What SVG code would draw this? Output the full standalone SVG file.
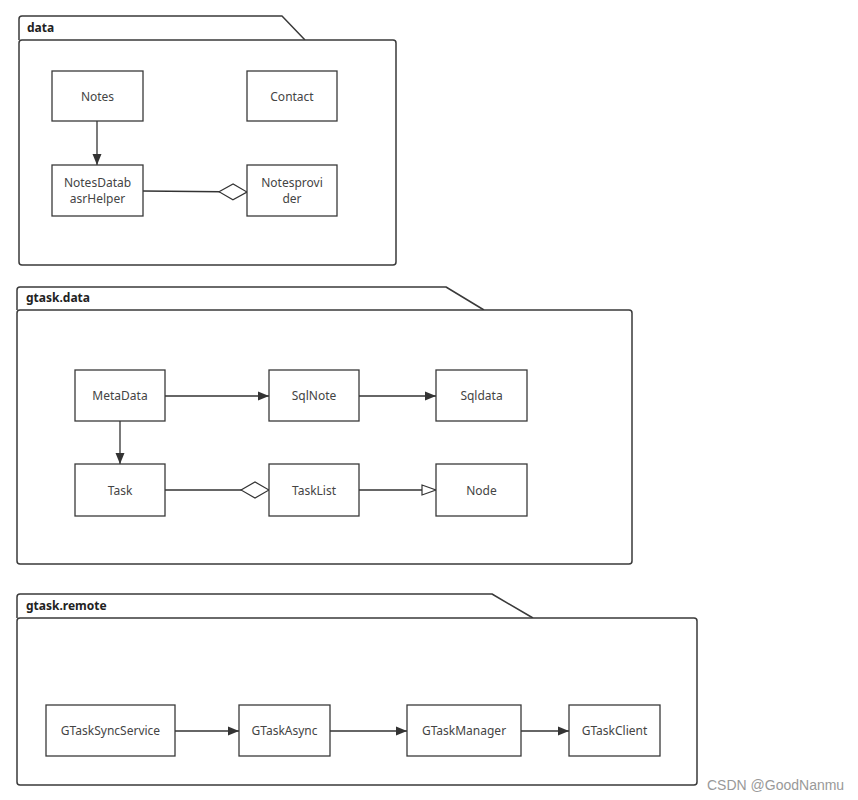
<svg xmlns="http://www.w3.org/2000/svg" width="858" height="800" viewBox="0 0 858 800">
<style>
.pk{fill:#fff;stroke:#3a3a3a;stroke-width:1.5;stroke-linejoin:round}
.nd{fill:#fff;stroke:#3a3a3a;stroke-width:1.3}
.t{font-family:"Noto Sans","Liberation Sans",sans-serif;font-size:12px;fill:#444;text-anchor:middle}
.pt{font-family:"Noto Sans","Liberation Sans",sans-serif;font-size:12px;font-weight:bold;fill:#222}
.c{fill:none;stroke:#333;stroke-width:1.3}
.wm{font-family:"Liberation Sans",Arial,sans-serif;font-size:14px;fill:#999}
</style>
<defs>
<marker id="arr" markerWidth="12" markerHeight="10" refX="11" refY="5" orient="auto" markerUnits="userSpaceOnUse">
<path d="M0,0.5 L11,5 L0,9.5 Z" fill="#333"/>
</marker>
<marker id="tri" markerWidth="16" markerHeight="12" refX="15" refY="6" orient="auto" markerUnits="userSpaceOnUse">
<path d="M1,1 L15,6 L1,11 Z" fill="#fff" stroke="#333" stroke-width="1.2"/>
</marker>
<marker id="dia" markerWidth="30" markerHeight="20" refX="29" refY="9" orient="auto" markerUnits="userSpaceOnUse">
<path d="M1,9 L15,1 L29,9 L15,17 Z" fill="#fff" stroke="#333" stroke-width="1.2"/>
</marker>
</defs>

<g id="pkg-data">
<path class="pk" d="M19,40 L19,19 Q19,16 22,16 L282,16 L305,40"/>
<rect class="pk" x="19" y="40" width="377" height="225" rx="3"/>
<text class="pt" x="27" y="32">data</text>
</g>
<g id="pkg-gtask-data">
<path class="pk" d="M17,310 L17,290 Q17,287 20,287 L446,287 L484,310"/>
<rect class="pk" x="17" y="310" width="615" height="254" rx="3"/>
<text class="pt" x="26" y="302">gtask.data</text>
</g>
<g id="pkg-gtask-remote">
<path class="pk" d="M17,618 L17,597 Q17,594 20,594 L492,594 L533,618"/>
<rect class="pk" x="17" y="618" width="680" height="167" rx="3"/>
<text class="pt" x="26" y="610">gtask.remote</text>
</g>

<g id="connectors">
<line class="c" x1="97" y1="121" x2="97" y2="165" marker-end="url(#arr)"/>
<line class="c" x1="143" y1="191" x2="247" y2="192" marker-end="url(#dia)"/>
<line class="c" x1="165" y1="396" x2="269" y2="396" marker-end="url(#arr)"/>
<line class="c" x1="359" y1="396" x2="436" y2="396" marker-end="url(#arr)"/>
<line class="c" x1="120" y1="421" x2="120" y2="464" marker-end="url(#arr)"/>
<line class="c" x1="165" y1="490" x2="269" y2="490" marker-end="url(#dia)"/>
<line class="c" x1="359" y1="490" x2="436" y2="490" marker-end="url(#tri)"/>
<line class="c" x1="175" y1="731" x2="239" y2="731" marker-end="url(#arr)"/>
<line class="c" x1="330" y1="731" x2="407" y2="731" marker-end="url(#arr)"/>
<line class="c" x1="521" y1="731" x2="569" y2="731" marker-end="url(#arr)"/>
</g>

<g id="Notes"><rect class="nd" x="52" y="71" width="91" height="50"/><text class="t" x="97.5" y="101">Notes</text></g>
<g id="Contact"><rect class="nd" x="247" y="71" width="90" height="50"/><text class="t" x="292" y="101">Contact</text></g>
<g id="NotesDatabasrHelper"><rect class="nd" x="52" y="165" width="91" height="51"/><text class="t" x="97.5" y="187">NotesDatab</text><text class="t" x="97.5" y="203">asrHelper</text></g>
<g id="Notesprovider"><rect class="nd" x="247" y="165" width="90" height="51"/><text class="t" x="292" y="187">Notesprovi</text><text class="t" x="292" y="203">der</text></g>

<g id="MetaData"><rect class="nd" x="75" y="370" width="90" height="51"/><text class="t" x="120" y="400">MetaData</text></g>
<g id="SqlNote"><rect class="nd" x="269" y="370" width="90" height="51"/><text class="t" x="314" y="400">SqlNote</text></g>
<g id="Sqldata"><rect class="nd" x="436" y="370" width="91" height="51"/><text class="t" x="481.5" y="400">Sqldata</text></g>
<g id="Task"><rect class="nd" x="75" y="464" width="90" height="52"/><text class="t" x="120" y="495">Task</text></g>
<g id="TaskList"><rect class="nd" x="269" y="464" width="90" height="52"/><text class="t" x="314" y="495">TaskList</text></g>
<g id="Node"><rect class="nd" x="436" y="464" width="91" height="52"/><text class="t" x="481.5" y="495">Node</text></g>

<g id="GTaskSyncService"><rect class="nd" x="46" y="705" width="129" height="51"/><text class="t" x="110.5" y="735">GTaskSyncService</text></g>
<g id="GTaskAsync"><rect class="nd" x="239" y="705" width="91" height="51"/><text class="t" x="284.5" y="735">GTaskAsync</text></g>
<g id="GTaskManager"><rect class="nd" x="407" y="705" width="114" height="51"/><text class="t" x="464" y="735">GTaskManager</text></g>
<g id="GTaskClient"><rect class="nd" x="569" y="705" width="91" height="51"/><text class="t" x="614.5" y="735">GTaskClient</text></g>

<text class="wm" x="707" y="790">CSDN @GoodNanmu</text>
</svg>
